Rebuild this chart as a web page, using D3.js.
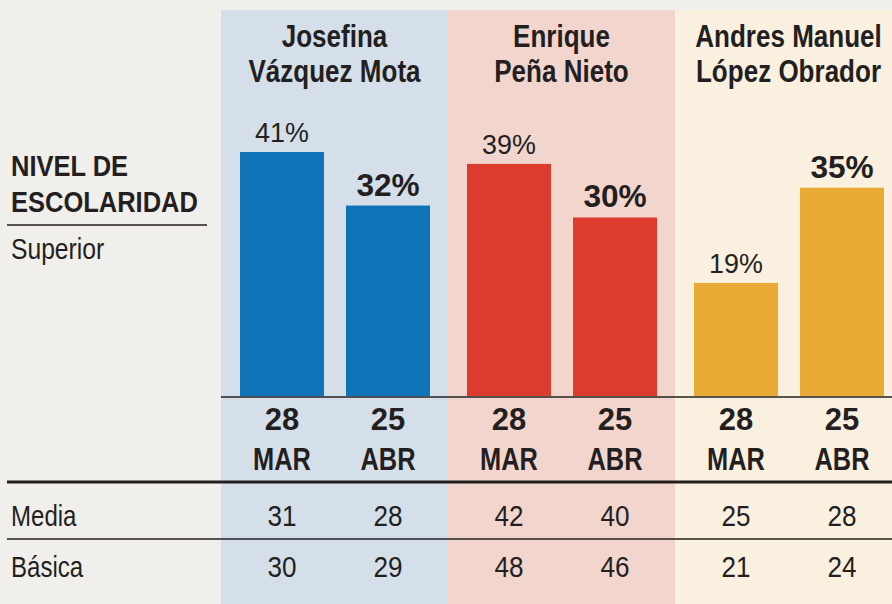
<!DOCTYPE html>
<html lang="es">
<head>
   <meta charset="UTF-8">
   <title>Nivel de escolaridad</title>
   <style>
      body {
         margin: 0;
         background: #f1efeb;
      }

      text {
         font-family: "Liberation Sans", Arial, sans-serif;
         fill: #231f20;
      }
   </style>
   <script src="https://cdn.jsdelivr.net/npm/d3@7"></script>
</head>
<body>
   <div class="d3"></div>
   <script>
      // data
      const candidates = ['JVM', 'EPN', 'AMLO']
      const nameLines = [
         ['Josefina', 'Vázquez Mota'],
         ['Enrique', 'Peña Nieto'],
         ['Andres Manuel', 'López Obrador']
      ]
      const dates = ['28 MAR', '25 ABR']
      const superior = [[41, 32], [39, 30], [19, 35]]
      const media = [[31, 28], [42, 40], [25, 28]]
      const basica = [[30, 29], [48, 46], [21, 24]]
      const rowLabels = ['Media', 'Básica']

      const panelColors = ['#d5dfea', '#f2d6ce', '#f9f0e0']
      const barColors = ['#0f74b7', '#dc3c2e', '#e8aa34']

      // setup
      const W = 892
      const H = 604
      const svg = d3.select('.d3').append('svg')
         .attr('width', W)
         .attr('height', H)

      const panelTop = 10
      const base = 396

      const x = d3.scaleBand()
         .domain(candidates)
         .range([221, 221 + 3 * 227])

      const xi = d3.scaleBand()
         .domain(dates)
         .range([19, 209])
         .paddingInner(0.2075)

      const y = d3.scaleLinear()
         .domain([0, 41])
         .range([base, 152])

      // condensed text: Liberation Sans squeezed horizontally
      function label(sel, tx, ty, sx, size, weight, anchor) {
         return sel.append('g')
               .attr('transform', (d, i) => `translate(${tx(d, i)},${ty(d, i)}) scale(${sx},1)`)
            .append('text')
               .attr('text-anchor', anchor || 'middle')
               .attr('font-size', size)
               .attr('font-weight', weight || 'normal')
      }

      // panels
      svg.selectAll('rect.panel')
         .data(candidates)
         .enter()
         .append('rect')
            .attr('class', 'panel')
            .attr('x', d => x(d))
            .attr('y', panelTop)
            .attr('width', x.bandwidth())
            .attr('height', H - panelTop)
            .attr('fill', (d, i) => panelColors[i])

      // candidate names
      const cx = d => x(d) + x.bandwidth() / 2
      ;[0, 1].forEach(line => {
         const sel = svg.selectAll('g.name' + line)
            .data(candidates)
            .enter()
         label(sel, cx, () => 47 + line * 35, 0.84, 31, 'bold')
            .text((d, i) => nameLines[i][line])
      })

      // bars
      const groups = svg.selectAll('g.cand')
         .data(candidates)
         .enter()
         .append('g')
            .attr('class', 'cand')
            .attr('transform', d => `translate(${x(d)},0)`)

      const bx = d => xi(d) + xi.bandwidth() / 2

      groups.each(function(c, i) {
         const g = d3.select(this)
         const vals = superior[i].map((v, j) => ({ date: dates[j], v, j }))

         g.selectAll('rect')
            .data(vals)
            .enter()
            .append('rect')
               .attr('x', d => xi(d.date))
               .attr('y', d => y(d.v))
               .attr('width', xi.bandwidth())
               .attr('height', d => base - y(d.v))
               .attr('fill', barColors[i])

         // value labels: first survey regular, latest bold
         const v = g.selectAll('g.val').data(vals).enter()
         label(v.filter(d => d.j === 0), d => bx(d.date), d => y(d.v) - 10, 0.96, 28)
            .text(d => d.v + '%')
         label(v.filter(d => d.j === 1), d => bx(d.date), d => y(d.v) - 10, 1.02, 31, 'bold')
            .text(d => d.v + '%')

         // dates
         const dsel = g.selectAll('g.date').data(dates).enter()
         label(dsel, bx, () => 430, 1, 31, 'bold')
            .text(d => d.split(' ')[0])
         const dsel2 = g.selectAll('g.month').data(dates).enter()
         label(dsel2, bx, () => 470, 0.82, 31, 'bold')
            .text(d => d.split(' ')[1])

         // table rows
         ;[media[i], basica[i]].forEach((row, r) => {
            const rs = g.selectAll('g.row' + r).data(row).enter()
            label(rs, (d, j) => bx(dates[j]), () => r ? 577 : 526, 0.9, 29)
               .text(d => d)
         })
      })

      // left labels
      const left = svg.append('g')
      label(left, () => 11, () => 176, 0.85, 30, 'bold', 'start').text('NIVEL DE')
      label(left, () => 11, () => 212, 0.85, 30, 'bold', 'start').text('ESCOLARIDAD')
      label(left, () => 11, () => 259, 0.85, 29, 'normal', 'start').text('Superior')

      const rl = svg.selectAll('g.rowlabel').data(rowLabels).enter()
      label(rl, () => 11, (d, i) => i ? 577 : 526, 0.83, 29, 'normal', 'start')
         .text(d => d)

      // rules
      const rule = (x1, x2, yy, w) => svg.append('line')
         .attr('x1', x1).attr('x2', x2)
         .attr('y1', yy).attr('y2', yy)
         .attr('stroke', '#231f20')
         .attr('stroke-width', w)

      rule(7, 207, 225, 1.5)
      rule(221, W, base + 1, 1.5)
      rule(7, W, 482, 3)
      rule(7, W, 539, 1.5)
   </script>
</body>
</html>
